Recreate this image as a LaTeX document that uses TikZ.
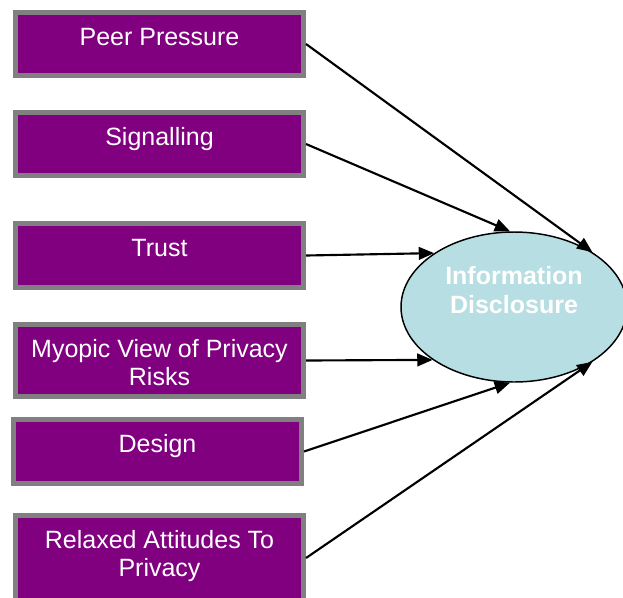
\documentclass[tikz,border=0pt]{standalone}
\usepackage{fontspec}
\setmainfont{Liberation Sans}
\usepackage{tikz}
\usetikzlibrary{arrows.meta, shapes.geometric, positioning}
\definecolor{boxpurple}{RGB}{128, 0, 128}
\definecolor{boxgray}{RGB}{128, 128, 128}
\definecolor{discblue}{RGB}{183, 222, 226}

\tikzset{
	factor/.style={draw=boxgray, line width=3.75pt, fill=boxpurple, text=white,
		anchor=north west, minimum width=216pt, inner xsep=2pt, inner ysep=4pt,
		align=center, font=\fontsize{18.75}{21}\selectfont},
	outcome/.style={ellipse, draw=black, line width=1.1pt, fill=discblue, text=white,
		minimum width=169.5pt, minimum height=112.5pt, align=center,
		text height=35.75pt, text depth=26.75pt,
		font=\fontsize{18.75}{21.75}\selectfont\bfseries},
	link/.style={draw=black, line width=1.6pt, -{Triangle[length=11.5pt, width=9.5pt]}}
}

\begin{document}
\begin{tikzpicture}[x=0.75pt, y=-0.75pt]
	\useasboundingbox (0,0) rectangle (623,597);
	\clip (0,0) rectangle (623,597);
	% Factors
	\foreach \nm/\x/\y/\hgt/\dpt/\txt in {
		peer/13/10/20.4/18.85/{Peer Pressure},
		signal/13/110/20.4/18.85/{Signalling},
		trust/13/221/20.4/19.6/{Trust},
		myopic/13/322/41.4/4.6/{Myopic View of Privacy\\Risks},
		design/11/417/20.4/19.6/{Design},
		relaxed/13/513/41.4/14.35/{Relaxed Attitudes To\\Privacy}}
	{
		\node[factor, text height=\hgt pt, text depth=\dpt pt] (\nm) at (\x,\y) {\txt};
	}
	
	% Outcome
	\node[outcome] (info) at (514,307) {Information\\Disclosure};
	
	% Arrows
	\foreach \src/\ang in {peer/35, signal/93, trust/146, myopic/213, design/267, relaxed/325}
	{
		\draw[link] (\src.east) -- (info.\ang);
	}
\end{tikzpicture}
\end{document}
